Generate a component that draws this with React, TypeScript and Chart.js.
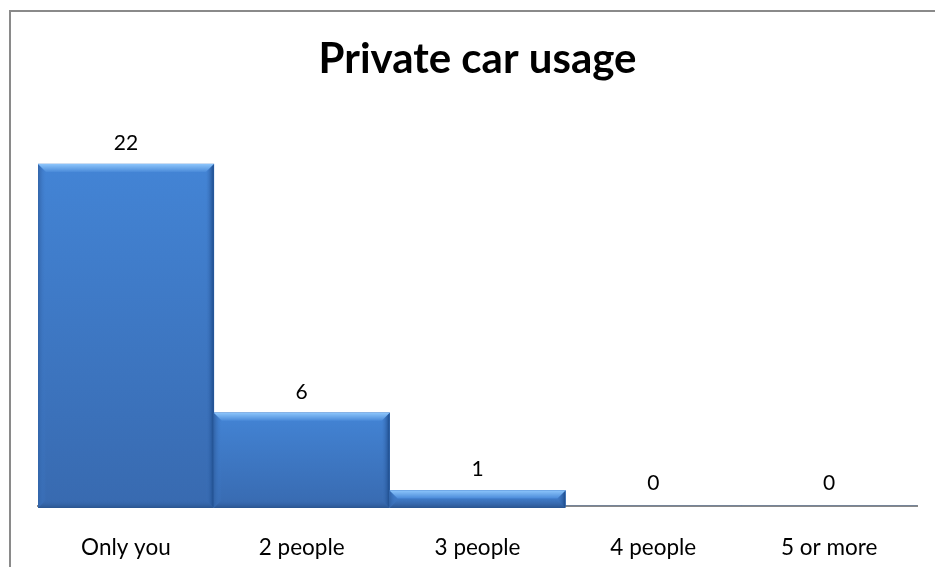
import React, { useEffect, useRef } from "react";
import { Chart, registerables } from "chart.js";

Chart.register(...registerables);

const categories: string[] = ["Only you", "2 people", "3 people", "4 people", "5 or more"];
const counts: number[] = [22, 6, 1, 0, 0];
const chartTitle = "Private car usage";

const FONT = "Lato, 'Open Sans', sans-serif";

const bevelPlugin = {
  id: "bevelBars",
  afterDatasetsDraw(chart: any) {
    const ctx = chart.ctx as CanvasRenderingContext2D;
    const meta = chart.getDatasetMeta(0);
    meta.data.forEach((el: any, i: number) => {
      const p = el.getProps(["x", "y", "base", "width"], true);
      const L = p.x - p.width / 2;
      const R = p.x + p.width / 2;
      const T = Math.min(p.y, p.base);
      const B = Math.max(p.y, p.base) + 2;
      const h = B - T;
      if (counts[i] <= 0 || h <= 2) return;
      const b = Math.min(8, h / 2);
      ctx.save();
      // body
      let g = ctx.createLinearGradient(0, T, 0, B);
      g.addColorStop(0, "#4384d5");
      g.addColorStop(1, "#386ab0");
      ctx.fillStyle = g;
      ctx.fillRect(L, T, R - L, B - T);
      const poly = (pts: number[][], fill: any) => {
        ctx.beginPath();
        ctx.moveTo(pts[0][0], pts[0][1]);
        for (let k = 1; k < pts.length; k++) ctx.lineTo(pts[k][0], pts[k][1]);
        ctx.closePath();
        ctx.fillStyle = fill;
        ctx.fill();
      };
      // left
      g = ctx.createLinearGradient(L, 0, L + b, 0);
      g.addColorStop(0, "#3264a8");
      g.addColorStop(1, "rgba(64,125,205,0)");
      poly([[L, T], [L + b, T + b], [L + b, B - b], [L, B]], g);
      // bottom
      g = ctx.createLinearGradient(0, B - b, 0, B);
      g.addColorStop(0, "rgba(56,106,176,0)");
      g.addColorStop(1, "#29548f");
      poly([[L, B], [L + b, B - b], [R - b, B - b], [R, B]], g);
      // right
      g = ctx.createLinearGradient(R - b, 0, R, 0);
      g.addColorStop(0, "rgba(60,115,190,0)");
      g.addColorStop(1, "#1c4a89");
      poly([[R, T], [R, B], [R - b, B - b], [R - b, T + b]], g);
      // top
      g = ctx.createLinearGradient(0, T, 0, T + b);
      g.addColorStop(0, "#8cc5fb");
      g.addColorStop(1, "#4a8ad9");
      poly([[L, T], [R, T], [R - b, T + b], [L + b, T + b]], g);
      ctx.restore();
    });
    // value labels
    ctx.save();
    ctx.font = `21px ${FONT}`;
    ctx.fillStyle = "#000";
    ctx.textAlign = "center";
    ctx.textBaseline = "middle";
    meta.data.forEach((el: any, i: number) => {
      const p = el.getProps(["x", "y"], true);
      const off = counts[i] > 0 ? 21 : 23;
      ctx.fillText(String(counts[i]), p.x, p.y - off);
    });
    ctx.restore();
  },
};

export default function App() {
  const ref = useRef<HTMLCanvasElement | null>(null);
  useEffect(() => {
    if (!ref.current) return;
    const chart = new Chart(ref.current, {
      type: "bar",
      data: {
        labels: categories,
        datasets: [
          {
            data: counts,
            backgroundColor: "#3d78c6",
            borderWidth: 0,
            categoryPercentage: 1,
            barPercentage: 1,
          },
        ],
      },
      options: {
        responsive: false,
        animation: false,
        layout: { padding: { left: 27, right: 26, top: 0, bottom: 7 } },
        plugins: {
          legend: { display: false },
          tooltip: { enabled: false },
          title: {
            display: true,
            text: chartTitle,
            color: "#000",
            font: { family: FONT, size: 42, weight: "bold" },
            padding: { top: 22, bottom: 33 },
          },
        },
        scales: {
          x: {
            z: 1,
            grid: { display: false, drawTicks: false },
            border: { display: true, color: "#888888", width: 2 },
            ticks: { color: "#000", font: { family: FONT, size: 22.5 }, padding: 28 },
          },
          y: { display: false, min: 0, max: 25 },
        },
      },
      plugins: [bevelPlugin],
    });
    return () => chart.destroy();
  }, []);
  return (
    <div style={{ position: "fixed", left: 0, top: 0, width: 935, height: 567, overflow: "hidden", background: "#fff" }}>
      <div
        style={{
          position: "absolute",
          left: 9,
          top: 10,
          width: 960,
          height: 600,
          border: "2px solid #8a8a8a",
          boxSizing: "border-box",
        }}
      />
      <canvas ref={ref} width={932} height={584} style={{ position: "absolute", left: 11, top: 12 }} />
    </div>
  );
}
